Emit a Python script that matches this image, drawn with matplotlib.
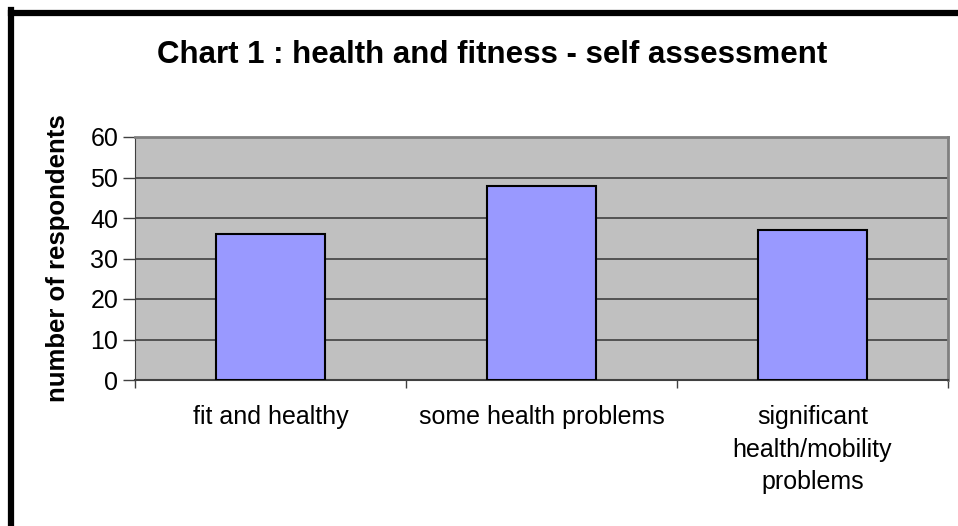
import matplotlib.pyplot as plt
from matplotlib.lines import Line2D
import numpy as np

categories = ["fit and healthy", "some health problems",
              "significant\nhealth/mobility\nproblems"]
respondents = [36, 48, 37]
yticks = [0, 10, 20, 30, 40, 50, 60]

plt.rcParams['font.family'] = ['Liberation Sans', 'DejaVu Sans']

fig = plt.figure(figsize=(9.58, 5.26), dpi=100)
ax = fig.add_axes([135/958, 1-380/526, (948-135)/958, (380-137)/526])

x = np.arange(len(categories))
ax.bar(x, respondents, width=0.405, color='#9999FF', edgecolor='black',
       linewidth=1.5, zorder=3)

ax.set_facecolor('#C0C0C0')
ax.set_xlim(-0.5, len(categories) - 0.5)
ax.set_ylim(0, 60)
ax.set_yticks(yticks)
ax.yaxis.grid(True, color='#404040', linewidth=1.2, zorder=1)
ax.set_axisbelow(True)

# category labels centred, tick marks between categories
ax.set_xticks(np.arange(-0.5, len(categories)), minor=False)
ax.set_xticklabels([])
ax.set_xticks(x, minor=True)
ax.set_xticklabels(categories, minor=True, fontsize=18, linespacing=1.45,
                   va='top')
ax.tick_params(axis='x', which='minor', length=0, pad=18)
ax.tick_params(axis='x', which='major', length=6, width=1, color='#404040',
               direction='out')
ax.tick_params(axis='y', length=9, width=1, color='#404040', labelsize=18,
               pad=3)

for side in ['top', 'right']:
    ax.spines[side].set_color('#808080')
    ax.spines[side].set_linewidth(2)
ax.spines['left'].set_color('#404040')
ax.spines['bottom'].set_color('#404040')
ax.spines['bottom'].set_linewidth(1.5)

fig.text(492/958, 1-55/526, "Chart 1 : health and fitness - self assessment",
         ha='center', va='center', fontsize=22.5, fontweight='bold')
fig.text(58/958, 1-258/526, "number of respondents", rotation=90,
         ha='center', va='center', fontsize=18.5, fontweight='bold')

# thick frame on the left and top of the chart
fig.add_artist(Line2D([11/958, 11/958], [0, 1-10/526], color='black',
                      linewidth=4.5, transform=fig.transFigure,
                      solid_capstyle='projecting'))
fig.add_artist(Line2D([11/958, 1], [1-13/526, 1-13/526], color='black',
                      linewidth=4.5, transform=fig.transFigure,
                      solid_capstyle='projecting'))

fig.savefig('out.png', dpi=100)
